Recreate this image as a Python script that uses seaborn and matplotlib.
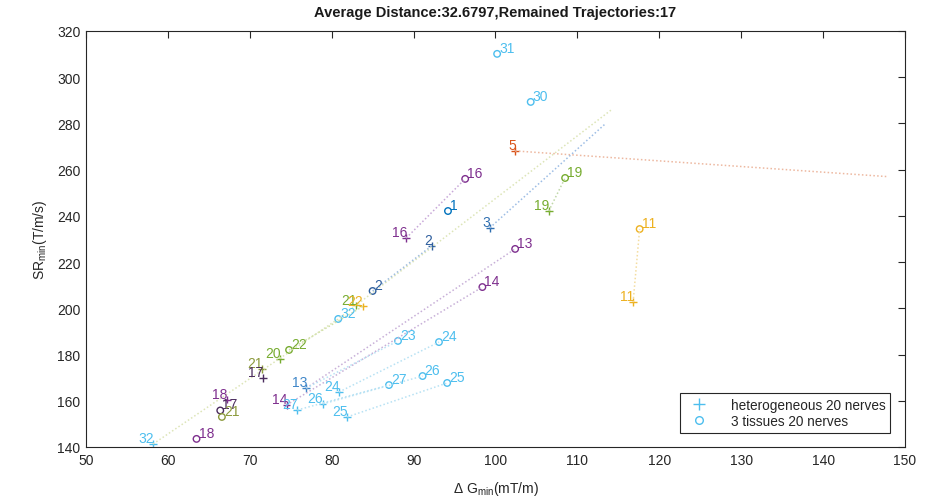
import matplotlib
matplotlib.use("Agg")
import matplotlib.pyplot as plt
from matplotlib.lines import Line2D
import seaborn as sns
import pandas as pd

# ---------------- data ----------------
title = "Average Distance:32.6797,Remained Trajectories:17"

het_labels = ['5', '16', '2', '3', '19', '11', '21', '22', '20', '21', '17', '18',
              '13', '24', '26', '25', '14', '27', '32']
het_x = [102.4, 89.1, 92.2, 99.3, 106.5, 116.8, 83.0, 83.8, 73.7, 71.5, 71.6, 67.2,
         76.9, 80.9, 78.9, 81.9, 74.5, 75.8, 58.2]
het_y = [268.1, 230.4, 227.0, 234.8, 242.1, 202.7, 201.3, 200.8, 178.1, 173.8, 169.9, 160.5,
         165.5, 163.8, 158.6, 153.0, 158.2, 156.0, 141.3]

tis_labels = ['31', '30', '16', '1', '19', '13', '14', '11', '2', '32', '22', '23',
              '24', '27', '26', '25', '18', '17', '21']
tis_x = [100.2, 104.3, 96.3, 94.2, 108.5, 102.4, 98.4, 117.6, 85.0, 80.8, 74.8, 88.1,
         93.1, 87.0, 91.1, 94.1, 63.5, 66.4, 66.6]
tis_y = [310.1, 289.3, 256.0, 242.1, 256.4, 225.7, 209.2, 234.3, 207.5, 195.4, 182.0, 185.9,
         185.4, 166.8, 170.7, 167.7, 143.5, 155.8, 153.0]

# trajectory paths (dotted)
traj_ids = ['5', '16', '11', '19', '32', '3', '13', '14', '2', '23', '24', '25', '26', '27', '22']
traj_x = [[102.4, 147.8], [89.1, 96.3], [116.8, 117.6], [106.5, 108.5], [58.2, 80.8, 114.3],
          [99.3, 113.4], [76.9, 102.4], [74.5, 98.4], [85.0, 92.2], [76.9, 88.1],
          [80.9, 93.1], [81.9, 94.1], [78.9, 91.1], [75.8, 87.0], [74.8, 83.8]]
traj_y = [[268.1, 257.0], [230.4, 256.0], [202.7, 234.3], [242.1, 256.4], [141.3, 195.4, 286.3],
          [234.8, 279.8], [165.5, 225.7], [158.2, 209.2], [207.5, 227.0], [165.5, 185.9],
          [163.8, 185.4], [153.0, 167.7], [158.6, 170.7], [156.0, 166.8], [182.0, 200.8]]

legend_labels = ['heterogeneous 20 nerves', '3 tissues 20 nerves']
xticks = list(range(50, 151, 10))
yticks = list(range(140, 321, 20))

# ---------------- styles ----------------
BL, OR, YE, PU, GR, LB = '#0072BD', '#D95319', '#EDB120', '#7E2F8E', '#77AC30', '#4DBEEE'
DP, OL = '#4B2C5E', '#8C9A3C'
het_colors = [OR, PU, '#2F5F9E', '#2F6FB0', GR, YE, GR, YE, GR, OL, DP, PU,
              '#3F86C8', LB, LB, LB, PU, LB, LB]
tis_colors = [LB, LB, PU, BL, GR, PU, PU, YE, '#2F5F9E', LB, GR, LB,
              LB, LB, LB, LB, PU, DP, OL]
traj_colors = ['#EDB8A0', '#C8A8D8', '#F4DDA0', '#C0D8A8', '#DDE5B8', '#9DBDE5', '#C8B0D8',
               '#C8B0D8', '#A0BEE0', '#B8E2F4', '#B8E2F4', '#B8E2F4', '#B8E2F4', '#B8E2F4', '#D0E0A8']

sns.set_theme(style="white")
plt.rcParams['font.family'] = ['Liberation Sans', 'DejaVu Sans']
plt.rcParams['mathtext.default'] = 'regular'

fig = plt.figure(figsize=(9.34, 5.02), dpi=100)
ax = fig.add_axes([0.092, 0.1076, 0.877, 0.8287])

# dotted trajectories
for tid, xs, ys, c in zip(traj_ids, traj_x, traj_y, traj_colors):
    sns.lineplot(x=xs, y=ys, sort=False, ax=ax, color=c, linestyle=(0, (1, 1.5)),
                 linewidth=1.1, estimator=None)

# markers
df_het = pd.DataFrame({'x': het_x, 'y': het_y, 'id': range(len(het_x))})
df_tis = pd.DataFrame({'x': tis_x, 'y': tis_y, 'id': range(len(tis_x))})
sns.scatterplot(data=df_het, x='x', y='y', hue='id', palette=het_colors, marker='+',
                s=30, linewidth=1.0, legend=False, ax=ax)
sns.scatterplot(data=df_tis, x='x', y='y', hue='id', palette=tis_colors, marker='o',
                s=22, linewidth=1.0, legend=False, ax=ax)
coll = ax.collections[-1]
fc = coll.get_facecolors()
coll.set_edgecolors(fc)
coll.set_facecolors('none')

# labels
for lab, x, y, c in zip(het_labels, het_x, het_y, het_colors):
    ax.annotate(lab, (x, y), xytext=(0.5, 1.2), textcoords='offset points',
                ha='right', va='baseline', color=c, fontsize=10)
for lab, x, y, c in zip(tis_labels, tis_x, tis_y, tis_colors):
    ax.annotate(lab, (x, y), xytext=(1.5, 1.5), textcoords='offset points',
                ha='left', va='baseline', color=c, fontsize=10)

ax.set_xlim(50, 150)
ax.set_ylim(140, 320)
ax.set_xticks(xticks)
ax.set_yticks(yticks)
ax.tick_params(direction='in', length=5, width=0.8, colors='#262626', labelsize=10,
               top=True, right=True, labeltop=False, labelright=False, pad=4)
for sp in ax.spines.values():
    sp.set_color('#262626')
    sp.set_linewidth(0.8)
ax.set_xlabel(r'$\Delta$ G$_{min}$(mT/m)', fontsize=10, color='#262626', labelpad=9)
ax.set_ylabel(r'SR$_{min}$(T/m/s)', fontsize=10, color='#262626', labelpad=6)
ax.set_title(title, fontsize=10.5, fontweight='bold', color='#1a1a1a', pad=11,
             family=['Liberation Sans Narrow', 'Liberation Sans', 'DejaVu Sans'])

handles = [Line2D([], [], marker='+', color=LB, linestyle='none', markersize=8),
           Line2D([], [], marker='o', color=LB, markerfacecolor='none', linestyle='none', markersize=5.5)]
leg = ax.legend(handles, legend_labels, loc='lower right', bbox_to_anchor=(0.982, 0.034),
                fontsize=9.8, frameon=True, fancybox=False, framealpha=1, borderpad=0.35,
                labelspacing=0.15, handlelength=2.2, handletextpad=1.2, borderaxespad=0)
leg.get_frame().set_edgecolor('#262626')
leg.get_frame().set_linewidth(0.8)

fig.savefig('out.png', dpi=100)
